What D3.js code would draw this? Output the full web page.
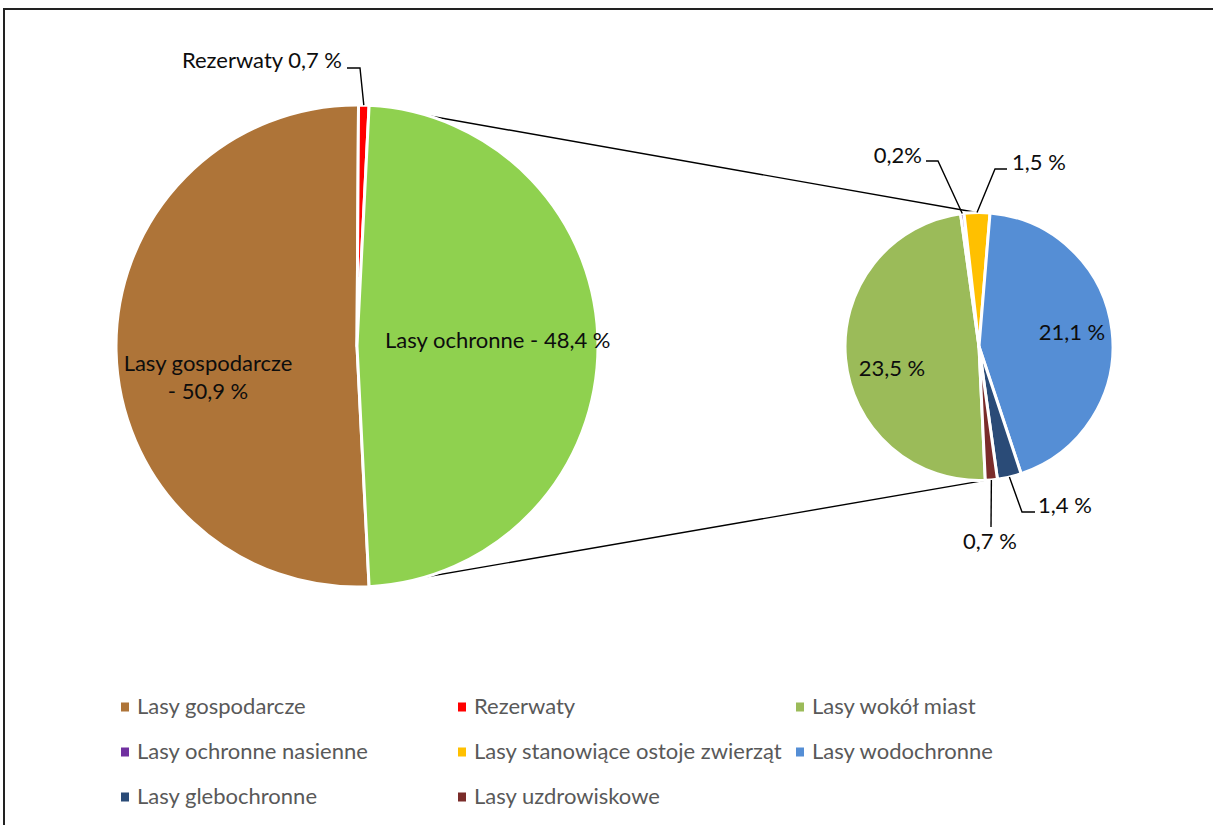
<!DOCTYPE html>
<html>
<head>
<meta charset="utf-8">
<script src="https://cdn.jsdelivr.net/npm/d3@7"></script>
<style>
  html, body { margin: 0; padding: 0; background: #fff; }
  svg { display: block; font-family: Lato, "Open Sans", sans-serif; }
</style>
</head>
<body>
<svg id="chart" width="1213" height="825"></svg>
<script>
// ---- data ----
const mainCategories = ["Lasy gospodarcze", "Rezerwaty", "Lasy ochronne"];
const mainValues = [50.9, 0.7, 48.4];
const mainColors = ["#AE7438", "#FF0000", "#8FD14F"];

const subCategories = ["Lasy wokół miast", "Lasy ochronne nasienne", "Lasy stanowiące ostoje zwierząt",
                       "Lasy wodochronne", "Lasy glebochronne", "Lasy uzdrowiskowe"];
const subValues = [23.5, 0.2, 1.5, 21.1, 1.4, 0.7];
const subColors = ["#9BBB59", "#7030A0", "#FFC000", "#558ED5", "#2A4B77", "#7A2C2A"];
const subLabels = ["23,5 %", "0,2%", "1,5 %", "21,1 %", "1,4 %", "0,7 %"];

const legendCategories = ["Lasy gospodarcze", "Rezerwaty", "Lasy wokół miast",
  "Lasy ochronne nasienne", "Lasy stanowiące ostoje zwierząt", "Lasy wodochronne",
  "Lasy glebochronne", "Lasy uzdrowiskowe"];
const legendColors = ["#AE7438", "#FF0000", "#9BBB59", "#7030A0", "#FFC000", "#558ED5", "#2A4B77", "#7A2C2A"];

// ---- layout ----
const svg = d3.select("#chart");
const FS = 22;
const main = { cx: 357, cy: 346, r: 241 };
const sub = { cx: 979, cy: 346.5, r: 134 };
const deg = Math.PI / 180;

svg.append("rect").attr("x", 4).attr("y", 9).attr("width", 1240).attr("height", 840)
  .attr("fill", "none").attr("stroke", "#222").attr("stroke-width", 2);

// main pie: "other" slice (last) centered on the right side
const mainTotal = d3.sum(mainValues);
const otherIdx = mainValues.length - 1;
const otherSpan = mainValues[otherIdx] / mainTotal * 2 * Math.PI;
const beforeOther = d3.sum(mainValues.slice(0, otherIdx)) / mainTotal * 2 * Math.PI;
const mainStart = Math.PI / 2 - otherSpan / 2 - beforeOther;
const mainArcs = d3.pie().sort(null).value(d => d)
  .startAngle(mainStart).endAngle(mainStart + 2 * Math.PI)(mainValues);

const subStart = 177.3 * deg;
const subArcs = d3.pie().sort(null).value(d => d)
  .startAngle(subStart).endAngle(subStart + 2 * Math.PI)(subValues);

const pt = (c, a, r) => [c.cx + r * Math.sin(a), c.cy - r * Math.cos(a)];

// connector lines
const oa = mainArcs[otherIdx];
const conn = [
  [pt(main, oa.startAngle, main.r), pt(sub, -1 * deg, sub.r)],
  [pt(main, oa.endAngle, main.r), pt(sub, 177.5 * deg, sub.r)]
];
svg.append("g").selectAll("line").data(conn).join("line")
  .attr("x1", d => d[0][0]).attr("y1", d => d[0][1])
  .attr("x2", d => d[1][0]).attr("y2", d => d[1][1])
  .attr("stroke", "#000").attr("stroke-width", 1.4);

const mainArc = d3.arc().innerRadius(0).outerRadius(main.r);
svg.append("g").attr("transform", `translate(${main.cx},${main.cy})`)
  .selectAll("path").data(mainArcs).join("path")
  .attr("d", mainArc).attr("fill", (d, i) => mainColors[i])
  .attr("stroke", "#fff").attr("stroke-width", 3).attr("stroke-linejoin", "round");

const subArc = d3.arc().innerRadius(0).outerRadius(sub.r);
svg.append("g").attr("transform", `translate(${sub.cx},${sub.cy})`)
  .selectAll("path").data(subArcs).join("path")
  .attr("d", subArc).attr("fill", (d, i) => subColors[i])
  .attr("stroke", "#fff").attr("stroke-width", 3).attr("stroke-linejoin", "round");

// ---- labels ----
const txt = (x, y, s, anchor) => svg.append("text").attr("x", x).attr("y", y)
  .attr("text-anchor", anchor || "start").attr("font-size", FS).attr("fill", "#0d0d0d").text(s);

// main labels
txt(main.cx - 149, main.cy + 25, mainCategories[0], "middle");
txt(main.cx - 149, main.cy + 53, "- 50,9 %", "middle");
txt(main.cx + 28, main.cy + 2, mainCategories[2] + " - 48,4 %", "start");

// leader helper
const leader = (c, arcD, pts) => {
  const mid = (arcD.startAngle + arcD.endAngle) / 2;
  const p0 = pt(c, mid, c.r);
  const all = [p0].concat(pts.map(p => [c.cx + p[0], c.cy + p[1]]));
  svg.append("path").attr("d", d3.line()(all)).attr("fill", "none")
    .attr("stroke", "#000").attr("stroke-width", 1.4);
};

// Rezerwaty
leader(main, mainArcs[1], [[3, -278], [-10, -278]]);
txt(main.cx - 15, main.cy - 278, mainCategories[1] + " 0,7 %", "end");

// secondary labels
txt(sub.cx - 87, sub.cy + 29, subLabels[0], "middle");
txt(sub.cx + 93, sub.cy - 7, subLabels[3], "middle");

leader(sub, subArcs[1], [[-41, -185.5], [-53, -185.5]]);
txt(sub.cx - 57, sub.cy - 184, subLabels[1], "end");

leader(sub, subArcs[2], [[16, -177.5], [28, -177.5]]);
txt(sub.cx + 33, sub.cy - 177, subLabels[2], "start");

leader(sub, subArcs[4], [[43, 165.5], [56, 165.5]]);
txt(sub.cx + 59, sub.cy + 166, subLabels[4], "start");

leader(sub, subArcs[5], [[12, 180.5]]);
txt(sub.cx + 11, sub.cy + 202, subLabels[5], "middle");

// ---- legend ----
const colX = [121, 458, 796];
const rowY = [707, 752, 797];
const lg = svg.append("g").selectAll("g").data(legendCategories).join("g")
  .attr("transform", (d, i) => `translate(${colX[i % 3]},${rowY[Math.floor(i / 3)]})`);
lg.append("rect").attr("x", 0).attr("y", -4.5).attr("width", 8).attr("height", 9)
  .attr("fill", (d, i) => legendColors[i]);
lg.append("text").attr("x", 16).attr("y", 7).attr("font-size", FS)
  .attr("fill", "#595959").text(d => d);
</script>
</body>
</html>
